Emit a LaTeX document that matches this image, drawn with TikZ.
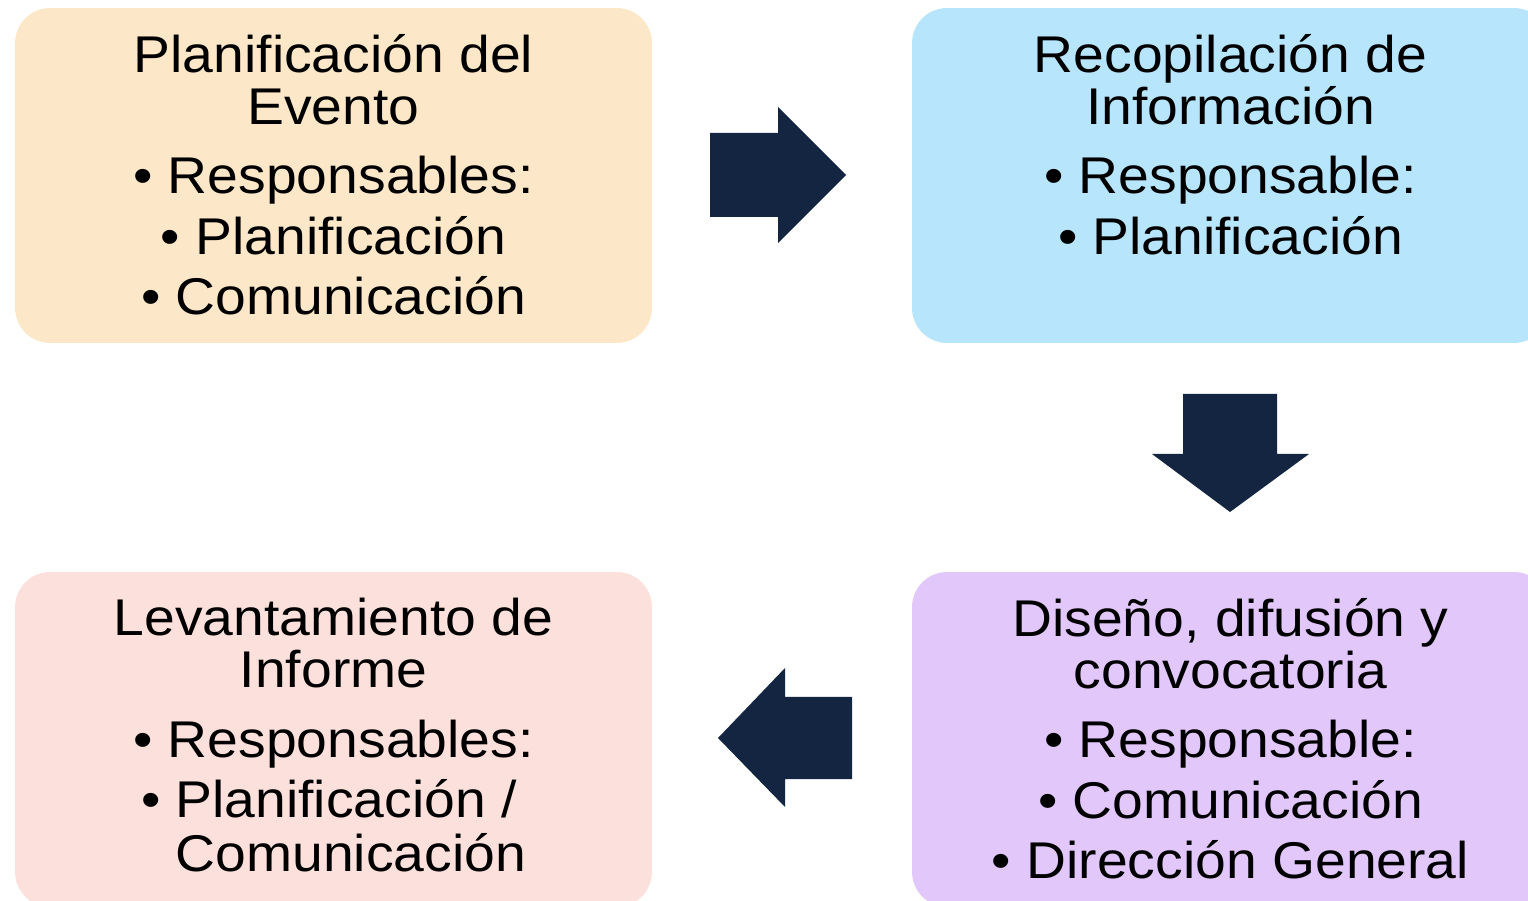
\documentclass[tikz,border=0pt]{standalone}
\usepackage{fontspec}
\setmainfont{Liberation Sans}[FakeStretch=1.07]
\usepackage{tikz}
\usetikzlibrary{positioning}
\definecolor{planfill}{RGB}{252,232,200}
\definecolor{recopfill}{RGB}{183,229,252}
\definecolor{disenofill}{RGB}{226,199,251}
\definecolor{informefill}{RGB}{252,224,220}
\definecolor{arrowblue}{RGB}{19,37,64}
\tikzset{stagebox/.style={rectangle,rounded corners=0.7cm,inner sep=0pt,
                          minimum width=12.74cm,minimum height=6.7cm},
         stagetext/.style={align=center,anchor=north,inner sep=0pt,
                           font=\fontsize{29.4pt}{29.6pt}\selectfont},
         blockarrow/.style={fill=arrowblue}}

\begin{document}
\begin{tikzpicture}[x=0.02cm, y=-0.02cm]
  \useasboundingbox (0,0) rectangle (1528,901);
  \clip (0,0) rectangle (1528,901);

  % stages
  \node[stagebox, fill=planfill] (plan) at (333.5,175.5) {};
  \node[stagebox, fill=recopfill] (recop) at (1230.5,175.5) {};
  \node[stagebox, fill=disenofill] (diseno) at (1230.5,739.5) {};
  \node[stagebox, fill=informefill] (informe) at (333.5,739.5) {};

  \node[stagetext] (plan-txt) at ([yshift=-0.52cm]plan.north)
    {Planificación del\\Evento\\[10.2pt]
     \textbullet\ Responsables:\\[4.8pt]
     \textbullet\ Planificación\\[4.8pt]
     \textbullet\ Comunicación};
  \node[stagetext] (recop-txt) at ([yshift=-0.52cm]recop.north)
    {Recopilación de\\Información\\[10.2pt]
     \textbullet\ Responsable:\\[4.8pt]
     \textbullet\ Planificación};
  \node[stagetext] (diseno-txt) at ([yshift=-0.52cm]diseno.north)
    {Diseño, difusión y\\convocatoria\\[10.2pt]
     \textbullet\ Responsable:\\[4.8pt]
     \textbullet\ Comunicación\\[4.8pt]
     \textbullet\ Dirección General};
  \node[stagetext] (informe-txt) at ([yshift=-0.52cm]informe.north)
    {Levantamiento de\\Informe\\[10.2pt]
     \textbullet\ Responsables:\\[4.8pt]
     \begin{tabular}[t]{@{}l@{}}\textbullet\ Planificación /\\
       \hphantom{\textbullet\ }Comunicación\end{tabular}};

  % block arrows
  \fill[blockarrow] (710,133) -- (778,133) -- (778,107) -- (846,175)
    -- (778,243) -- (778,217) -- (710,217) -- cycle;
  \fill[blockarrow] (1183,394) -- (1277,394) -- (1277,454) -- (1309,454)
    -- (1230,512) -- (1152,454) -- (1183,454) -- cycle;
  \fill[blockarrow] (852,697) -- (785,697) -- (785,668) -- (718,738)
    -- (785,807) -- (785,779) -- (852,779) -- cycle;
\end{tikzpicture}
\end{document}
